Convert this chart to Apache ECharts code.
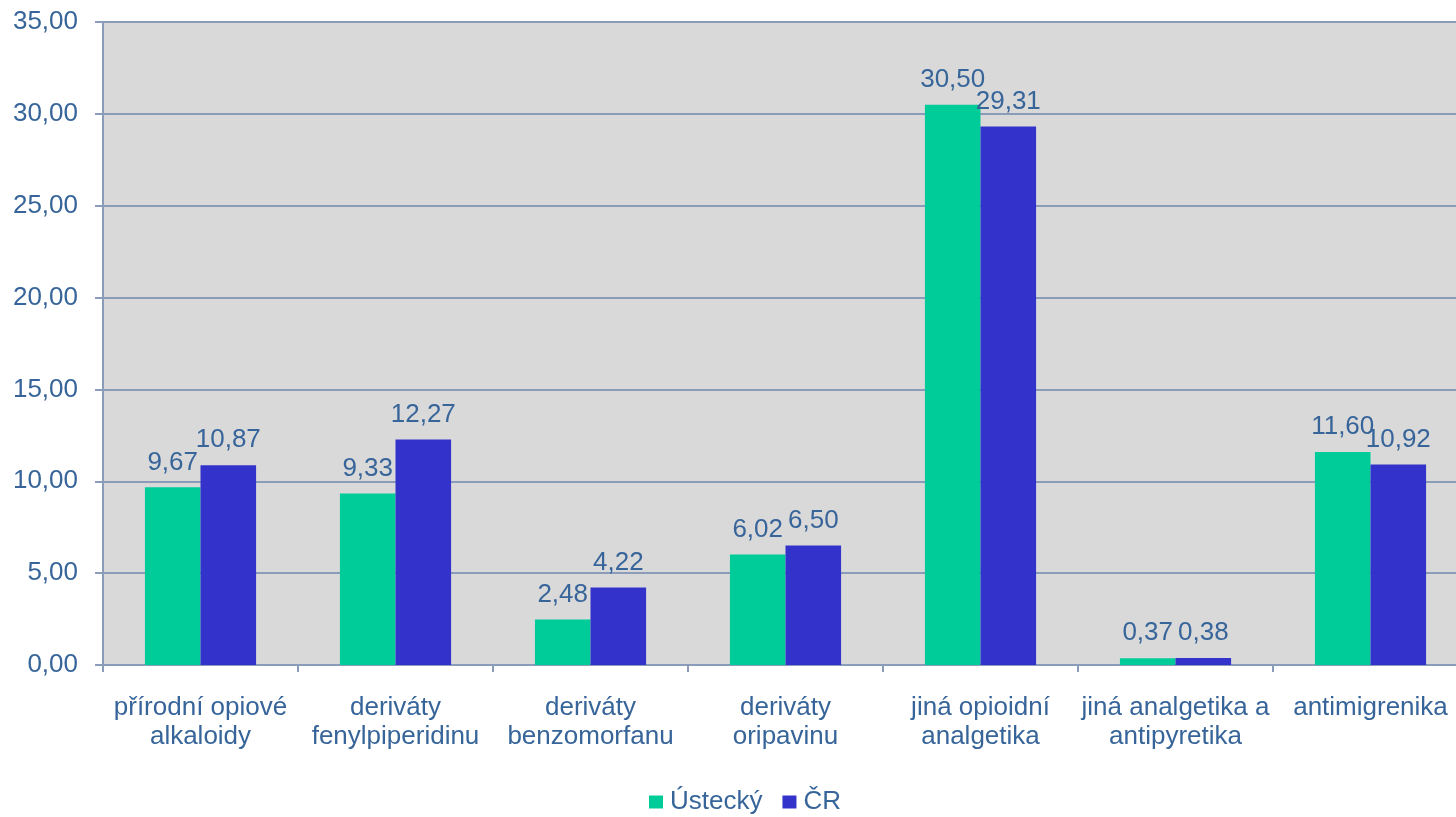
<!DOCTYPE html>
<html>
<head>
<meta charset="utf-8">
<script src="https://cdn.jsdelivr.net/npm/echarts@6/dist/echarts.min.js"></script>
<style>html,body{margin:0;padding:0;background:#fff;}#c{width:1456px;height:817px;}</style>
</head>
<body>
<div id="c"></div>
<script>
const categories = ["přírodní opiové\nalkaloidy", "deriváty\nfenylpiperidinu", "deriváty\nbenzomorfanu", "deriváty\noripavinu", "jiná opioidní\nanalgetika", "jiná analgetika a\nantipyretika", "antimigrenika"];
const seriesNames = ["Ústecký", "ČR"];
const usteckyValues = [9.67, 9.33, 2.48, 6.02, 30.50, 0.37, 11.60];
const crValues = [10.87, 12.27, 4.22, 6.50, 29.31, 0.38, 10.92];

const textColor = '#37659a';
const lineColor = '#8a9cba';
const fmt = v => Number(v).toFixed(2).replace('.', ',');
const font = 'Liberation Sans, Arial, sans-serif';

const chart = echarts.init(document.getElementById('c'));
chart.setOption({
  animation: false,
  textStyle: { fontFamily: font },
  grid: { left: 103, top: 22, width: 1365, height: 643, show: true, backgroundColor: '#d9d9d9', borderWidth: 0, containLabel: false, outerBoundsMode: 'none' },
  legend: {
    data: seriesNames, left: 649, top: 789, padding: 0, itemWidth: 14, itemHeight: 13, itemGap: 20,
    icon: 'rect',
    textStyle: { color: textColor, fontSize: 26, fontFamily: font, padding: [0, 0, 0, 2] }
  },
  xAxis: {
    type: 'category', data: categories,
    axisLine: { show: true, lineStyle: { color: lineColor, width: 2 } },
    axisTick: { show: true, length: 7, lineStyle: { color: lineColor, width: 2 } },
    axisLabel: { color: textColor, fontSize: 26, lineHeight: 29, margin: 28, interval: 0, fontFamily: font }
  },
  yAxis: {
    type: 'value', min: 0, max: 35, interval: 5,
    axisLine: { show: true, lineStyle: { color: lineColor, width: 2 } },
    axisTick: { show: true, length: 8, lineStyle: { color: lineColor, width: 2 } },
    splitLine: { show: true, lineStyle: { color: lineColor, width: 2 } },
    axisLabel: { color: textColor, fontSize: 26, margin: 25, formatter: fmt, fontFamily: font }
  },
  series: [
    { name: seriesNames[0], type: 'bar', data: usteckyValues, barGap: '0%', barCategoryGap: '43%',
      itemStyle: { color: '#00cc99' },
      label: { show: true, position: 'top', distance: 12, color: textColor, fontSize: 26, fontFamily: font, formatter: p => fmt(p.value) } },
    { name: seriesNames[1], type: 'bar', data: crValues, barGap: '0%', barCategoryGap: '43%',
      itemStyle: { color: '#3333cc' },
      label: { show: true, position: 'top', distance: 12, color: textColor, fontSize: 26, fontFamily: font, formatter: p => fmt(p.value) } }
  ]
});
</script>
</body>
</html>
